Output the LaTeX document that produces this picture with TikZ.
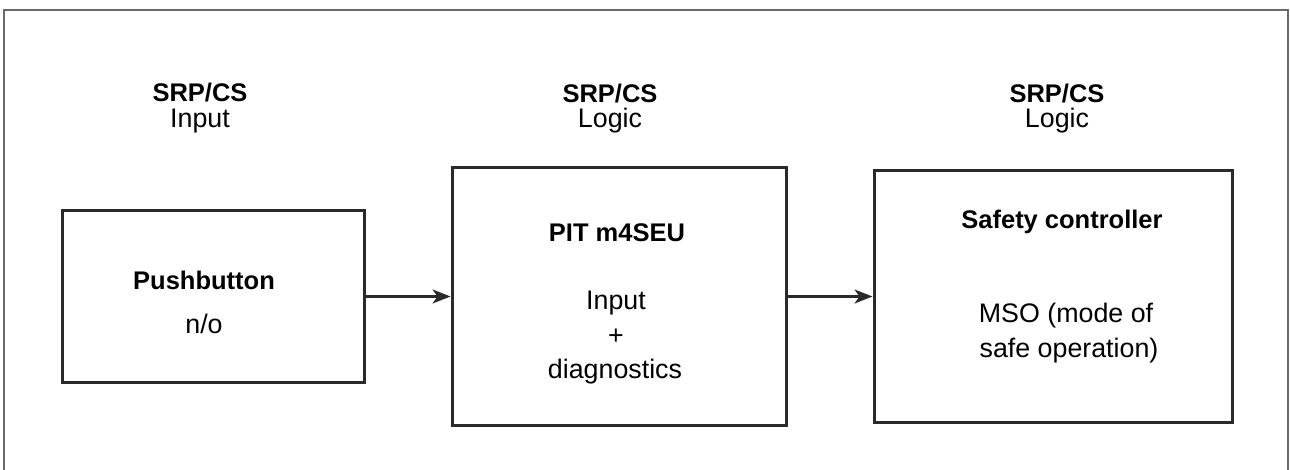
\documentclass[tikz,border=0pt]{standalone}
\usepackage{fontspec}
\setmainfont{Liberation Sans}
\usetikzlibrary{arrows.meta}
\definecolor{boxline}{HTML}{2A2A2A}
\definecolor{frameline}{HTML}{6A6A6A}
\tikzset{
  blockbox/.style={draw=boxline, line width=3pt, minimum width=#1, inner sep=0pt},
  frame/.style={draw=frameline, line width=2pt},
  arr/.style={draw=boxline, line width=2.5pt, -{Stealth[length=18pt,width=14pt,inset=5pt]}},
  bt/.style={font=\fontsize{25.5}{30}\selectfont\bfseries, anchor=base, inner sep=0pt},
  rt/.style={font=\fontsize{26.8}{32}\selectfont, anchor=base, inner sep=0pt},
}
\begin{document}
\begin{tikzpicture}[x=1pt,y=-1pt]
\useasboundingbox (0,0) rectangle (1290,470);
\fill[white] (0,0) rectangle (1290,470);
\draw[frame] (4,480) -- (4,10) -- (1288,10) -- (1288,480);

% header labels
\node[bt] (h1a) at (200,102) {SRP/CS};
\node[rt] (h1b) at (200,128) {Input};
\node[bt] (h2a) at (610,103) {SRP/CS};
\node[rt] (h2b) at (610,128) {Logic};
\node[bt] (h3a) at (1057,103) {SRP/CS};
\node[rt] (h3b) at (1057,128) {Logic};

% boxes
\node[blockbox=302pt, minimum height=171pt] (b1) at (213,296.5) {};
\node[blockbox=334pt, minimum height=257pt] (b2) at (619,296.5) {};
\node[blockbox=358pt, minimum height=251pt] (b3) at (1053,296.5) {};

% box texts
\node[bt] (t1a) at (204,290) {Pushbutton};
\node[rt] (t1b) at (204,333) {n/o};
\node[bt] (t2a) at (617,242) {PIT m4SEU};
\node[rt] (t2b) at (616,309) {Input};
\node[rt] (t2c) at (616,344) {+};
\node[rt] (t2d) at (615,378) {diagnostics};
\node[bt] (t3a) at (1062,229) {Safety controller};
\node[rt] (t3b) at (1066,322) {MSO (mode of};
\node[rt] (t3c) at (1069,357) {safe operation)};

% connectors
\draw[arr] (b1.east) -- (b2.west);
\draw[arr] (b2.east) -- (b3.west);
\end{tikzpicture}
\end{document}
